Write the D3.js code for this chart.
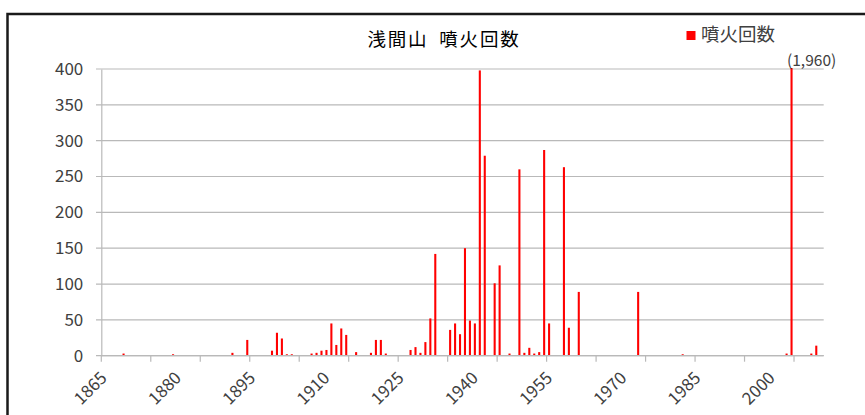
<!DOCTYPE html>
<html>
<head>
<meta charset="utf-8">
<script src="https://cdn.jsdelivr.net/npm/d3@7"></script>
<style>
  body { margin: 0; background: #fff; }
  svg { display: block; font-family: "Noto Sans CJK JP", "Noto Sans", sans-serif; }
</style>
</head>
<body>
<svg id="chart" width="865" height="415"></svg>
<script>
// データ（噴火のあった年と回数）
const eruptionYears = [
  1869, 1879, 1891, 1894, 1899, 1900, 1901, 1902, 1903, 1907,
  1908, 1909, 1910, 1911, 1912, 1913, 1914, 1916, 1919, 1920,
  1921, 1922, 1927, 1928, 1929, 1930, 1931, 1932, 1935, 1936,
  1937, 1938, 1939, 1940, 1941, 1942, 1944, 1945, 1947, 1949,
  1950, 1951, 1952, 1953, 1954, 1955, 1958, 1959, 1961, 1973,
  1982, 2003, 2004, 2008, 2009
];
const eruptionCounts = [
  3, 2, 4, 22, 7, 32, 24, 2, 2, 3,
  4, 7, 8, 45, 15, 38, 29, 5, 4, 22,
  22, 3, 8, 12, 4, 19, 52, 142, 36, 45,
  30, 150, 49, 45, 398, 279, 101, 126, 3, 260,
  4, 11, 3, 5, 287, 45, 263, 39, 89, 89,
  2, 3, 1960, 3, 14
];
const firstYear = 1865, lastYear = 2010;
const yTicks = [0, 50, 100, 150, 200, 250, 300, 350, 400];
const xLabelYears = [1865, 1880, 1895, 1910, 1925, 1940, 1955, 1970, 1985, 2000];
const title = "浅間山 噴火回数";
const seriesName = "噴火回数";

// 配置
const plotLeft = 101.3, plotRight = 823.7, plotTop = 69, plotBottom = 355.7;
const svg = d3.select("#chart");

// 外枠
svg.append("rect")
  .attr("x", 7.5).attr("y", 14)
  .attr("width", 900).attr("height", 500)
  .attr("fill", "none")
  .attr("stroke", "#1a1a1a")
  .attr("stroke-width", 2.5);

// 比例尺
const years = d3.range(firstYear, lastYear + 1);
const x = d3.scaleBand()
  .domain(years)
  .range([plotLeft, plotRight])
  .paddingInner(0.58)
  .paddingOuter(0.29);
const step = x.step();

const y = d3.scaleLinear()
  .domain([0, 400])
  .range([plotBottom, plotTop]);

// グリッド線
svg.append("g")
  .selectAll("line")
  .data(yTicks)
  .enter().append("line")
  .attr("x1", plotLeft - 5.3)
  .attr("x2", plotRight)
  .attr("y1", function (d) { return y(d); })
  .attr("y2", function (d) { return y(d); })
  .attr("stroke", "#b9b9b9")
  .attr("stroke-width", 1.2);

// Y軸
const yAxis = svg.append("g")
  .attr("transform", "translate(" + plotLeft + ",0)")
  .call(d3.axisLeft(y).tickValues(yTicks).tickSize(0).tickPadding(18));
yAxis.select(".domain").attr("stroke", "#b9b9b9").attr("stroke-width", 1.2);
yAxis.selectAll("text")
  .attr("font-size", 17)
  .attr("fill", "#404040")
  .attr("font-family", "'Noto Sans CJK JP', 'Noto Sans', sans-serif");

// X軸の目盛り（10年ごと）
const tickYears = years.filter(function (d) { return (d - firstYear) % 10 === 0; });
svg.append("g")
  .selectAll("line")
  .data(tickYears)
  .enter().append("line")
  .attr("x1", function (d) { return x(d) - step * 0.29; })
  .attr("x2", function (d) { return x(d) - step * 0.29; })
  .attr("y1", plotBottom)
  .attr("y2", plotBottom + 6)
  .attr("stroke", "#b9b9b9")
  .attr("stroke-width", 1.2);

// X軸ラベル（15年ごと）
svg.append("g")
  .selectAll("text")
  .data(xLabelYears)
  .enter().append("text")
  .attr("transform", function (d) {
    return "translate(" + (x(d) + x.bandwidth() / 2 + 1) + "," + (plotBottom + 20) + ") rotate(-45)";
  })
  .attr("text-anchor", "end")
  .attr("dominant-baseline", "middle")
  .attr("font-size", 17)
  .attr("fill", "#404040")
  .text(function (d) { return d; });

// 柱形
const bars = eruptionYears.map(function (yr, i) { return { year: yr, value: eruptionCounts[i] }; });
svg.append("g")
  .selectAll("rect")
  .data(bars)
  .enter().append("rect")
  .attr("x", function (d) { return x(d.year); })
  .attr("y", function (d) { return y(Math.min(d.value, 400)) - (d.value > 400 ? 1 : 0); })
  .attr("width", x.bandwidth())
  .attr("height", function (d) { return plotBottom - y(Math.min(d.value, 400)) + (d.value > 400 ? 1 : 0); })
  .attr("fill", "#ff0000");

// X軸の線
svg.append("line")
  .attr("x1", plotLeft).attr("x2", plotRight)
  .attr("y1", plotBottom).attr("y2", plotBottom)
  .attr("stroke", "#b9b9b9")
  .attr("stroke-width", 1.2);

// 上限を超えた値のラベル
bars.filter(function (d) { return d.value > 400; }).forEach(function (d) {
  svg.append("text")
    .attr("x", x(d.year) + x.bandwidth() / 2 - 4.5)
    .attr("y", plotTop - 7)
    .attr("dominant-baseline", "middle")
    .attr("font-size", 15.5)
    .attr("fill", "#404040")
    .text("(" + d3.format(",")(d.value) + ")");
});

// タイトル
svg.append("text")
  .attr("x", 444)
  .attr("y", 41)
  .attr("text-anchor", "middle")
  .attr("dominant-baseline", "middle")
  .attr("font-size", 18.5)
  .attr("letter-spacing", 1.8)
  .attr("word-spacing", 5)
  .attr("fill", "#000")
  .text(title);

// 凡例
svg.append("rect")
  .attr("x", 686.5).attr("y", 31)
  .attr("width", 9).attr("height", 9)
  .attr("fill", "#ff0000");
svg.append("text")
  .attr("x", 701)
  .attr("y", 36)
  .attr("dominant-baseline", "middle")
  .attr("font-size", 18.5)
  .attr("fill", "#404040")
  .text(seriesName);
</script>
</body>
</html>
